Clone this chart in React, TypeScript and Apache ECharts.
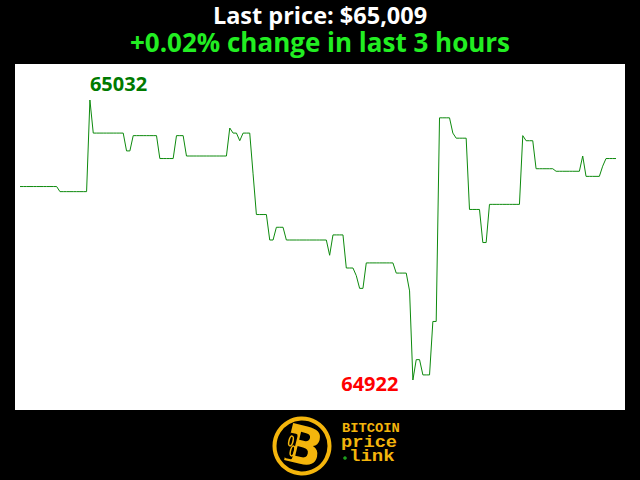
import React, { useEffect, useRef } from "react";
import * as echarts from "echarts";

const titleText = "Last price: $65,009";
const subtitleText = "+0.02% change in last 3 hours";

// one price per minute over the last 3 hours (180 samples)
const prices: number[] = [
  64998, 64998, 64998, 64998, 64998, 64998, 64998, 64998, 64998, 64998, 64998, 64998,
  64996, 64996, 64996, 64996, 64996, 64996, 64996, 64996, 64996,
  65032,
  65019, 65019, 65019, 65019, 65019, 65019, 65019, 65019, 65019, 65019,
  65012, 65012,
  65018, 65018, 65018, 65018, 65018, 65018, 65018, 65018,
  65009, 65009, 65009, 65009, 65009,
  65018, 65018, 65018,
  65010, 65010, 65010, 65010, 65010, 65010, 65010, 65010, 65010, 65010, 65010, 65010, 65010,
  65021, 65019, 65019, 65016,
  65019, 65019, 65019,
  65003,
  64987, 64987, 64987, 64987,
  64977, 64977,
  64982, 64982, 64982,
  64977, 64977, 64977, 64977, 64977, 64977, 64977, 64977, 64977, 64977, 64977, 64977, 64977,
  64971,
  64979, 64979, 64979, 64979,
  64966, 64966, 64966,
  64963,
  64958, 64958,
  64968, 64968, 64968, 64968, 64968, 64968, 64968, 64968, 64968,
  64964, 64964, 64964, 64964,
  64957,
  64922,
  64930, 64930,
  64924, 64924, 64924,
  64945, 64945,
  65025, 65025, 65025, 65025,
  65019,
  65017, 65017, 65017, 65017,
  64989, 64989, 64989, 64989,
  64976, 64976,
  64991, 64991, 64991, 64991, 64991, 64991, 64991, 64991, 64991, 64991,
  65018,
  65016, 65016, 65016,
  65005, 65005, 65005, 65005, 65005, 65005,
  65004, 65004, 65004, 65004, 65004, 65004, 65004, 65004,
  65010,
  65002, 65002, 65002, 65002, 65002,
  65006,
  65009, 65009, 65009, 65009,
];

const minuteLabels: string[] = prices.map((_, i) => String(i));

const logoLines = ["BITCOIN", "price", "link"];

export default function App() {
  const ref = useRef<HTMLDivElement>(null);

  useEffect(() => {
    document.body.style.margin = "0";
    document.body.style.background = "#000";
    if (!ref.current) return;
    const chart = echarts.init(ref.current, undefined, { renderer: "svg" });

    const maxVal = Math.max(...prices);
    const minVal = Math.min(...prices);
    const maxIdx = prices.indexOf(maxVal);
    const minIdx = prices.indexOf(minVal);
    const font = "'Open Sans', 'Noto Sans', sans-serif";
    const gold = "#f4b50c";

    chart.setOption({
      animation: false,
      backgroundColor: "#000",
      grid: { left: 20, right: 24, top: 100, bottom: 100 },
      xAxis: {
        type: "category",
        data: minuteLabels,
        boundaryGap: false,
        show: false,
      },
      yAxis: {
        type: "value",
        min: minVal,
        max: maxVal,
        show: false,
        splitLine: { show: false },
      },
      graphic: [
        {
          type: "rect",
          z: -10,
          shape: { x: 15, y: 64, width: 610, height: 346 },
          style: { fill: "#fff" },
        },
        {
          type: "text",
          x: 320,
          y: 14.5,
          style: {
            text: titleText,
            fill: "#fff",
            font: `bold 23.5px ${font}`,
            lineHeight: 22,
            textAlign: "center",
            textVerticalAlign: "middle",
          },
        },
        {
          type: "text",
          x: 320,
          y: 41.5,
          style: {
            text: subtitleText,
            fill: "#22ee22",
            font: `bold 26px ${font}`,
            lineHeight: 25,
            textAlign: "center",
            textVerticalAlign: "middle",
          },
        },
        {
          type: "circle",
          shape: { cx: 302, cy: 446, r: 27.5 },
          style: { fill: "#000", stroke: gold, lineWidth: 4 },
        },
        {
          type: "text",
          x: 303,
          y: 446,
          rotation: -0.24,
          style: {
            text: "B",
            fill: gold,
            font: `900 52px 'DejaVu Sans', sans-serif`,
            textAlign: "center",
            textVerticalAlign: "middle",
          },
        },
        {
          type: "rect",
          x: 291,
          y: 446,
          rotation: -0.24,
          shape: { x: -4, y: -13, width: 8, height: 26, r: 2 },
          style: { fill: "#000" },
        },
        {
          type: "ellipse",
          x: 291,
          y: 441,
          rotation: -0.24,
          shape: { cx: 0, cy: 0, rx: 2, ry: 5 },
          style: { fill: "none", stroke: gold, lineWidth: 1.5 },
        },
        {
          type: "ellipse",
          x: 292.5,
          y: 451,
          rotation: -0.24,
          shape: { cx: 0, cy: 0, rx: 2, ry: 5 },
          style: { fill: "none", stroke: gold, lineWidth: 1.5 },
        },
        {
          type: "text",
          x: 342,
          y: 429,
          scaleX: 1.06,
          style: {
            text: logoLines[0],
            fill: gold,
            font: `bold 13px 'Liberation Mono', monospace`,
            lineHeight: 12,
            textAlign: "left",
            textVerticalAlign: "middle",
          },
        },
        {
          type: "text",
          x: 341,
          y: 442,
          scaleX: 1.1,
          style: {
            text: logoLines[1],
            fill: gold,
            font: `bold 17px 'Liberation Mono', monospace`,
            lineHeight: 13,
            textAlign: "left",
            textVerticalAlign: "middle",
          },
        },
        {
          type: "circle",
          shape: { cx: 345, cy: 458, r: 1.8 },
          style: { fill: "#1ea01e" },
        },
        {
          type: "text",
          x: 349,
          y: 456,
          scaleX: 1.12,
          style: {
            text: logoLines[2],
            fill: gold,
            font: `bold 17px 'Liberation Mono', monospace`,
            lineHeight: 13,
            textAlign: "left",
            textVerticalAlign: "middle",
          },
        },
      ],
      series: [
        {
          type: "line",
          data: prices,
          showSymbol: false,
          clip: false,
          lineStyle: { color: "#0d8a0d", width: 1 },
          markPoint: {
            symbol: "circle",
            symbolSize: 1,
            itemStyle: { color: "rgba(0,0,0,0)" },
            data: [
              {
                coord: [maxIdx, maxVal],
                value: maxVal,
                label: {
                  show: true,
                  position: "top",
                  align: "left",
                  distance: 6,
                  formatter: String(maxVal),
                  color: "#007a00",
                  fontWeight: "bold",
                  fontSize: 20,
                  fontFamily: font,
                },
              },
              {
                coord: [minIdx, minVal],
                value: minVal,
                label: {
                  show: true,
                  position: "left",
                  distance: 14,
                  offset: [0, 3],
                  formatter: String(minVal),
                  color: "#ff0000",
                  fontWeight: "bold",
                  fontSize: 20,
                  fontFamily: font,
                },
              },
            ],
          },
        },
      ],
    });

    return () => chart.dispose();
  }, []);

  return <div ref={ref} style={{ width: 640, height: 480 }} />;
}
